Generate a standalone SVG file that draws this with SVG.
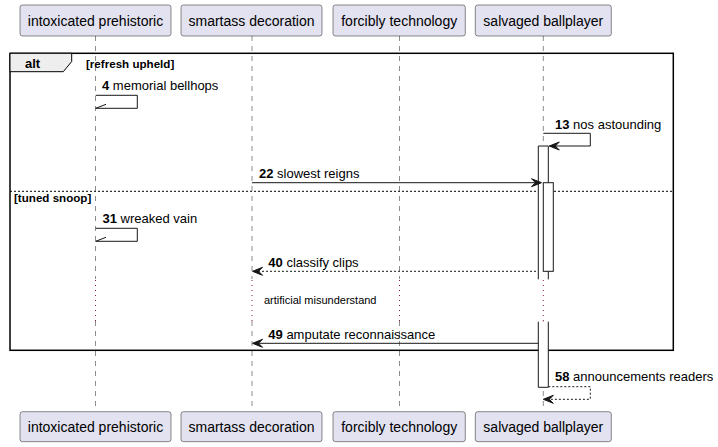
<svg xmlns="http://www.w3.org/2000/svg" width="718" height="447" viewBox="0 0 718 447">
<style>
.p rect{fill:#E2E2F0;stroke:#181818;stroke-width:0.5}
.p text{font-family:"Liberation Sans",Arial,sans-serif;font-size:14px;fill:#000;text-anchor:middle}
.life{stroke:#181818;stroke-width:0.5;stroke-dasharray:5,5;fill:none}
.delay{stroke:#8B1A4A;stroke-width:1;stroke-dasharray:1,4;fill:none}
.msg{stroke:#181818;stroke-width:1;fill:none}
.dash{stroke-dasharray:2,2}
.ah{fill:#181818;stroke:#181818;stroke-width:1}
.t{font-family:"Liberation Sans",Arial,sans-serif;font-size:13px;fill:#000}
.b{font-weight:bold}
.act{fill:#fff;stroke:none}
.actl{stroke:#181818;stroke-width:1;fill:none}
.frame{fill:none;stroke:#000;stroke-width:1.5}
.small{font-family:"Liberation Sans",Arial,sans-serif;font-size:11px;fill:#000}
.guard{font-family:"Liberation Sans",Arial,sans-serif;font-size:11.6px;font-weight:bold;fill:#000}
</style>
<g id="lifelines">
<path class="life" d="M95.5,36V279M95.5,321V411"/>
<path class="life" d="M252,36V279M252,321V411"/>
<path class="life" d="M399.5,36V279M399.5,321V411"/>
<path class="life" d="M543.3,36V279M543.3,321V411"/>
<path class="delay" d="M95.5,280V321M252,280V321M399.5,280V321M543.3,280V321"/>
</g>
<g id="frame-alt">
<rect class="frame" x="10" y="53.3" width="663.3" height="297"/>
<polygon points="10,53.3 71.7,53.3 71.7,61.5 63.3,71.7 10,71.7" fill="#EEEEEE" stroke="#000" stroke-width="1"/>
<text class="t b" x="25" y="68">alt</text>
<text class="guard" x="86" y="67.5">[refresh upheld]</text>
<line x1="10" y1="191.3" x2="673.3" y2="191.3" stroke="#000" stroke-width="1" stroke-dasharray="2,2"/>
<text class="guard" x="14" y="202">[tuned snoop]</text>
</g>
<g id="activations">
<rect class="act" x="538.3" y="146" width="10" height="133.3"/>
<path class="actl" d="M538.3,279.3V146H548.3V279.3"/>
<rect class="act" x="538.3" y="321.7" width="10" height="65.6"/>
<path class="actl" d="M538.3,321.7V387.3H548.3V321.7"/>
<rect x="543.3" y="182.7" width="10" height="88.6" fill="#fff" stroke="#181818" stroke-width="1"/>
</g>
<g id="connectors">
<path class="msg" d="M95.7,95.3H137.3V108.3H95.7"/>
<line class="msg" x1="95.7" y1="108.3" x2="106" y2="104.3"/>
<text class="t" x="102" y="90"><tspan class="b">4</tspan> memorial bellhops</text>

<path class="msg" d="M543.3,133.3H590.3V146H549.3"/>
<polygon class="ah" points="549.3,146 559.3,142 555.3,146 559.3,150"/>
<text class="t" x="555" y="129.3"><tspan class="b">13</tspan> nos astounding</text>

<line class="msg" x1="252" y1="182.7" x2="539" y2="182.7"/>
<polygon class="ah" points="541.5,182.7 531.5,178.7 535.5,182.7 531.5,186.7"/>
<text class="t" x="259" y="178"><tspan class="b">22</tspan> slowest reigns</text>

<path class="msg" d="M95.7,228.3H137.3V241.3H95.7"/>
<line class="msg" x1="95.7" y1="241.3" x2="106" y2="237.3"/>
<text class="t" x="102.5" y="223"><tspan class="b">31</tspan> wreaked vain</text>

<line class="msg dash" x1="536" y1="271.3" x2="254" y2="271.3"/>
<polygon class="ah" points="252.5,271.3 262.5,267.3 258.5,271.3 262.5,275.3"/>
<text class="t" x="268.3" y="266.5"><tspan class="b">40</tspan> classify clips</text>

<text class="small" x="264" y="304">artificial misunderstand</text>

<line class="msg" x1="538.3" y1="343.3" x2="254" y2="343.3"/>
<polygon class="ah" points="252.5,343.3 262.5,339.3 258.5,343.3 262.5,347.3"/>
<text class="t" x="268.3" y="338.5"><tspan class="b">49</tspan> amputate reconnaissance</text>

<path class="msg dash" d="M548.3,386.7H590.3V399.3H545"/>
<polygon class="ah" points="543.3,399.3 553.3,395.3 549.3,399.3 553.3,403.3"/>
<text class="t" x="555" y="380.5"><tspan class="b">58</tspan> announcements readers</text>
</g>
<g id="p1" class="p">
<rect x="20" y="5" width="151" height="31" rx="2.5"/>
<text x="95.5" y="26">intoxicated prehistoric</text>
<rect x="20" y="411.7" width="151" height="30" rx="2.5"/>
<text x="95.5" y="432">intoxicated prehistoric</text>
</g>
<g id="p2" class="p">
<rect x="181" y="5" width="141" height="31" rx="2.5"/>
<text x="251.5" y="26">smartass decoration</text>
<rect x="181" y="411.7" width="141" height="30" rx="2.5"/>
<text x="251.5" y="432">smartass decoration</text>
</g>
<g id="p3" class="p">
<rect x="333" y="5" width="132.3" height="31" rx="2.5"/>
<text x="399.2" y="26">forcibly technology</text>
<rect x="333" y="411.7" width="132.3" height="30" rx="2.5"/>
<text x="399.2" y="432">forcibly technology</text>
</g>
<g id="p4" class="p">
<rect x="475.3" y="5" width="136" height="31" rx="2.5"/>
<text x="543.3" y="26">salvaged ballplayer</text>
<rect x="475.3" y="411.7" width="136" height="30" rx="2.5"/>
<text x="543.3" y="432">salvaged ballplayer</text>
</g>
</svg>
